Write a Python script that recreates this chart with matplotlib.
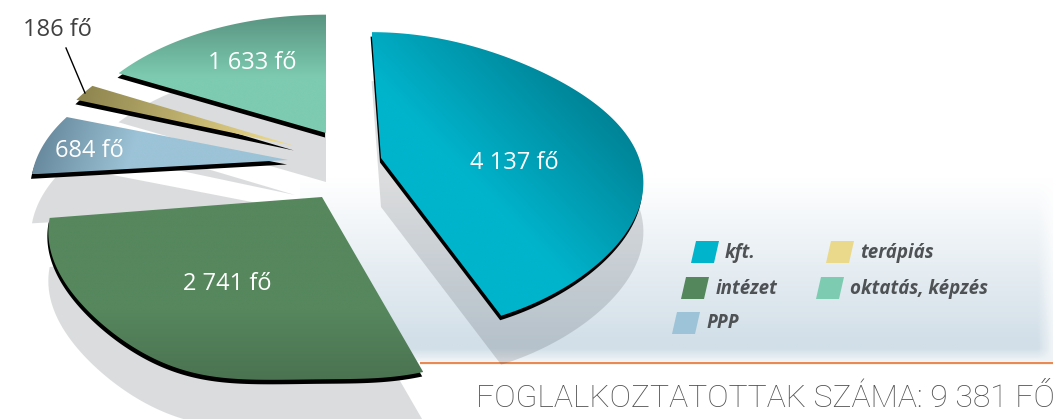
import numpy as np
import matplotlib
matplotlib.use("Agg")
import matplotlib.pyplot as plt
from matplotlib.colors import to_rgb
from matplotlib.patches import Polygon, PathPatch
from matplotlib.path import Path

# ---- data -------------------------------------------------------------
categories = ["kft.", "intézet", "PPP", "terápiás", "oktatás, képzés"]
employees = [4137, 2741, 684, 186, 1633]
value_labels = ["4 137 fő", "2 741 fő", "684 fő", "186 fő", "1 633 fő"]
title_text = "FOGLALKOZTATOTTAK SZÁMA: 9 381 FŐ"

# ---- layout (pixel space) ---------------------------------------------
W, H = 1057, 419
tips = [(381, 158), (322, 197), (288, 160), (295, 146), (326, 133)]
radii_x = [258, 267, 252, 249, 255]
radii_y = [146, 157, 133, 143, 142]
depth = [0.16, 0.2, 0.2, 0.2, 0.2]
shear = [0.075, -0.10, 0.0, 0.0, 0.0]
tilt = [0.0, -0.015, 0.0, 0.0, 0.0]
flatten = [0.03, 0.0, 0.0, 0.0, 0.0]
flatten_lower_left = [0.0, 0.05, 0.0, 0.0, 0.0]
squash = [0.0, 0.07, 0.0, 0.0, 0.0]
label_pos = [(514, 163), (227, 284), (89, 151), (57, 30), (252, 63)]
grad_from = [(480, 190), (300, 310), (130, 160), (280, 140), (300, 78)]
grad_to = [(595, 80), (300, 385), (40, 130), (85, 95), (300, 16)]
col_from = ["#00b4cc", "#56875d", "#9cc3d7", "#ecd98a", "#7dcbb1"]
col_to = ["#007f92", "#4a7150", "#66879b", "#8f8650", "#5a9582"]
swatch_xy = [(691, 263), (681, 299), (672, 334), (826, 263), (816, 299)]
legend_text_xy = [(725, 253), (716, 289), (707, 323), (860, 253), (850, 289)]
legend_colors = ["#00b4cc", "#54875c", "#9cc3d7", "#ead98a", "#7dcbb1"]

fig = plt.figure(figsize=(W / 100, H / 100), dpi=100)
ax = fig.add_axes([0, 0, 1, 1])
ax.set_axis_off()


def wedge_outline(i, t1, t2):
    a = np.radians(np.linspace(t1, t2, 200))
    s2 = np.sin(2 * a)
    r = 1 - flatten[i] * s2 ** 2 - flatten_lower_left[i] * np.clip(s2, 0, 1) ** 2
    u, v = np.cos(a), np.sin(a)
    s = r / (1 + depth[i] * v)
    x = radii_x[i] * u * s
    y = -radii_y[i] * v * s * (1 - squash[i] * np.clip(-v, 0, 1) ** 20)
    x, y = x + shear[i] * y, y + tilt[i] * x
    pts = np.column_stack([x + tips[i][0], y + tips[i][1]])
    return np.vstack([tips[i], pts])


values = np.array(employees, float)
edges = 90 - np.concatenate([[0], np.cumsum(values)]) / values.sum() * 360
outlines = [wedge_outline(i, edges[i], edges[i + 1]) for i in range(len(values))]

# ---- background panel --------------------------------------------------
yy, xx = np.mgrid[178:361:183j, 300:1053:400j]
top, bot = np.array(to_rgb("#ffffff")), np.array(to_rgb("#d2dfe8"))
t = np.clip((yy - 178) / 165, 0, 1)[..., None]
rgba = np.dstack([top * (1 - t) + bot * t, np.ones_like(yy)])
fade_b = np.clip((361 - yy) / 12, 0, 1)
fade_r = np.clip((1053 - xx) / 14, 0, 1)
white_mix = (fade_b * fade_r)[..., None]
rgba[..., :3] = rgba[..., :3] * (0.35 + 0.65 * white_mix) + (0.65 - 0.65 * white_mix)
ax.imshow(rgba, extent=(300, 1053, 361, 178), aspect="auto", zorder=0)
ax.plot([420, 1053], [362.5, 362.5], color="#e98a52", lw=1.6, zorder=1,
        solid_capstyle="butt")

# ---- shadows: one compound path so overlaps do not darken twice --------
verts, codes = [], []
for o in outlines:
    s = o + np.array([0, 49])
    verts.extend(s)
    verts.append(s[0])
    codes.extend([Path.MOVETO] + [Path.LINETO] * (len(s) - 1) + [Path.CLOSEPOLY])
ax.add_patch(PathPatch(Path(verts, codes), fc="#2a3038", ec="none", alpha=0.165, zorder=2))

# ---- black rims and gradient-filled tops --------------------------------
for i, o in enumerate(outlines):
    ax.add_patch(Polygon(o + np.array([-1, 4.5]), closed=True, fc="black", ec="none", zorder=3 + i * 0.1))
for i, o in enumerate(outlines):
    x0, y0 = o.min(axis=0)
    x1, y1 = o.max(axis=0)
    gy, gx = np.mgrid[y0:y1:220j, x0:x1:220j]
    p0, p1 = np.array(grad_from[i]), np.array(grad_to[i])
    d = p1 - p0
    g = np.clip(((gx - p0[0]) * d[0] + (gy - p0[1]) * d[1]) / (d @ d), 0, 1)[..., None]
    c0, c1 = np.array(to_rgb(col_from[i])), np.array(to_rgb(col_to[i]))
    img = ax.imshow(c0 * (1 - g) + c1 * g, extent=(x0, x1, y1, y0), aspect="auto", zorder=4 + i * 0.1)
    clip = Polygon(o, closed=True, transform=ax.transData, fc="none", ec="none")
    ax.add_patch(clip)
    img.set_clip_path(clip)

# ---- value labels -------------------------------------------------------
for i, lab in enumerate(value_labels):
    ax.text(*label_pos[i], lab, ha="center", va="center", fontsize=17,
            family="Open Sans", color="#404040" if i == 3 else "white", zorder=6)
ax.plot([66, 85], [48, 93], color="black", lw=1, zorder=6)

# ---- legend -------------------------------------------------------------
for i, cat in enumerate(categories):
    sx, sy = swatch_xy[i]
    ax.add_patch(Polygon([(sx, sy), (sx + 5, sy - 22), (sx + 28, sy - 22), (sx + 23, sy)],
                         closed=True, fc=legend_colors[i], ec="none", zorder=6))
    ax.text(*legend_text_xy[i], cat, ha="left", va="center", fontsize=13.5,
            family="Open Sans", style="italic", weight="bold", color="#4f5254", zorder=6)

ttl = ax.text(1055, 398, title_text, ha="right", va="center", fontsize=24,
              family="Roboto", weight="light", color="#505050", zorder=6)
ax.set_xlim(0, W)
ax.set_ylim(H, 0)
fig.canvas.draw()
w_now = ttl.get_window_extent(fig.canvas.get_renderer()).width
ttl.set_fontsize(24 * 577 / w_now)

fig.savefig("out.png", dpi=100)
